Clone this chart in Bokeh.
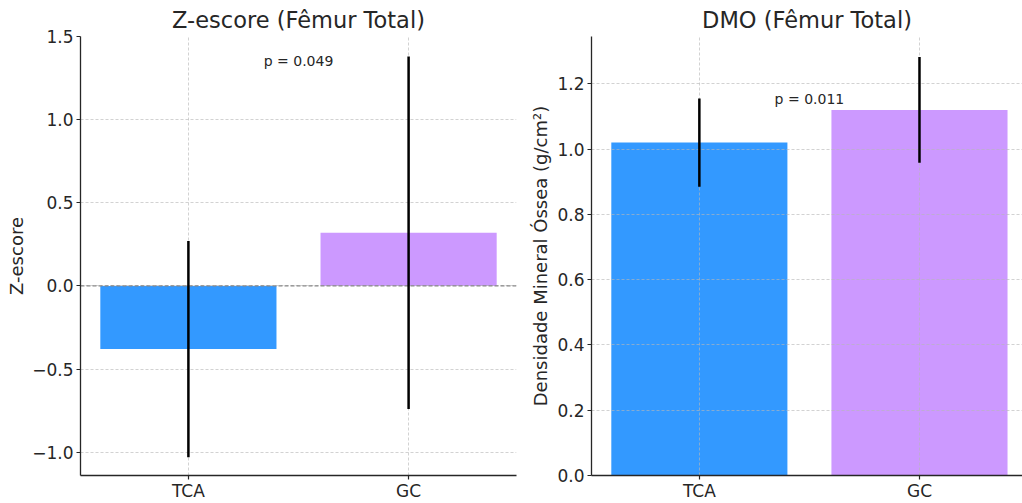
from bokeh.plotting import figure
from bokeh.layouts import row
from bokeh.models import Range1d, FixedTicker, Span, Label
from bokeh.embed import file_html
from bokeh.resources import INLINE

# ---- data ----
categories = ["TCA", "GC"]
bar_colors = ["#3399ff", "#cc99ff"]

z_mean = [-0.38, 0.32]
z_sd = [0.65, 1.06]
z_ticks = [-1.0, -0.5, 0.0, 0.5, 1.0, 1.5]
z_tick_labels = ["\u22121.0", "\u22120.5", "0.0", "0.5", "1.0", "1.5"]
z_p_text = "p = 0.049"
z_p_y = 1.35

dmo_mean = [1.02, 1.12]
dmo_sd = [0.135, 0.162]
dmo_ticks = [0.0, 0.2, 0.4, 0.6, 0.8, 1.0, 1.2]
dmo_tick_labels = ["0.0", "0.2", "0.4", "0.6", "0.8", "1.0", "1.2"]
dmo_p_text = "p = 0.011"
dmo_p_y = 1.155

FONT = "DejaVu Sans"
TXT = "#262626"


def make_panel(title, ylabel, means, sds, yticks, ylabels, yrange, xend,
               width, min_left, min_right, label_standoff, p_text, p_y, zero_line):
    p = figure(width=width, height=503, output_backend="svg", toolbar_location=None,
               x_range=Range1d(-0.49, xend), y_range=Range1d(*yrange),
               min_border_left=min_left, min_border_right=min_right,
               min_border_top=36, min_border_bottom=0)
    p.outline_line_color = None
    p.background_fill_color = "white"
    p.border_fill_color = "white"

    p.title.text = title
    p.title.align = "center"
    p.title.text_font = FONT
    p.title.text_font_size = "22.5px"
    p.title.text_font_style = "normal"
    p.title.text_color = TXT
    p.title.offset = 0
    p.title.standoff = 7

    xs = list(range(len(categories)))
    bars = p.vbar(x=xs, top=means, bottom=0, width=0.8, fill_color=bar_colors, line_color=None)
    bars.level = "image"
    lows = [m - s for m, s in zip(means, sds)]
    highs = [m + s for m, s in zip(means, sds)]
    p.segment(x0=xs, y0=lows, x1=xs, y1=highs, line_color="black", line_width=2.5)

    if zero_line:
        p.add_layout(Span(location=0, dimension="width", line_color="#888888",
                          line_width=1.2, line_dash="4 2", level="underlay"))

    p.add_layout(Label(x=0.5, y=p_y, text=p_text, text_align="center",
                       text_baseline="middle", text_font=FONT, text_font_size="14px",
                       text_color=TXT))

    for ax in (p.xaxis, p.yaxis):
        ax.axis_line_color = TXT
        ax.axis_line_width = 1.3
        ax.major_tick_line_color = TXT
        ax.major_tick_line_width = 1.2
        ax.major_tick_out = 4
        ax.major_tick_in = 0
        ax.minor_tick_line_color = None
        ax.major_label_text_font = FONT
        ax.major_label_text_font_size = "17px"
        ax.major_label_text_color = TXT
        ax.major_label_standoff = 1

    p.xaxis.ticker = FixedTicker(ticks=xs)
    p.xaxis.major_label_overrides = {i: c for i, c in enumerate(categories)}
    p.yaxis.ticker = FixedTicker(ticks=yticks)
    p.yaxis.major_label_overrides = {t: l for t, l in zip(yticks, ylabels)}
    p.yaxis.major_label_standoff = 3

    p.yaxis.axis_label = ylabel
    p.yaxis.axis_label_text_font = FONT
    p.yaxis.axis_label_text_font_size = "18px"
    p.yaxis.axis_label_text_font_style = "normal"
    p.yaxis.axis_label_text_color = TXT
    p.yaxis.axis_label_standoff = label_standoff

    for g in (p.xgrid, p.ygrid):
        g.grid_line_color = "#b8b8b8"
        g.grid_line_alpha = 0.7
        g.grid_line_width = 0.9
        g.grid_line_dash = "3 2"
    p.xgrid.ticker = FixedTicker(ticks=xs)
    p.ygrid.ticker = FixedTicker(ticks=yticks)
    return p


left = make_panel("Z-escore (F\u00eamur Total)", "Z-escore", z_mean, z_sd,
                  z_ticks, z_tick_labels, (-1.14, 1.5), 1.49,
                  520, 80, 4, 2, z_p_text, z_p_y, True)
right = make_panel("DMO (F\u00eamur Total)", "Densidade Mineral \u00d3ssea (g/cm\u00b2)",
                   dmo_mean, dmo_sd, dmo_ticks, dmo_tick_labels, (0, 1.345), 1.468,
                   502, 71, 0, 3, dmo_p_text, dmo_p_y, False)

layout = row(left, right)
open("out.html", "w").write(file_html(layout, INLINE))
